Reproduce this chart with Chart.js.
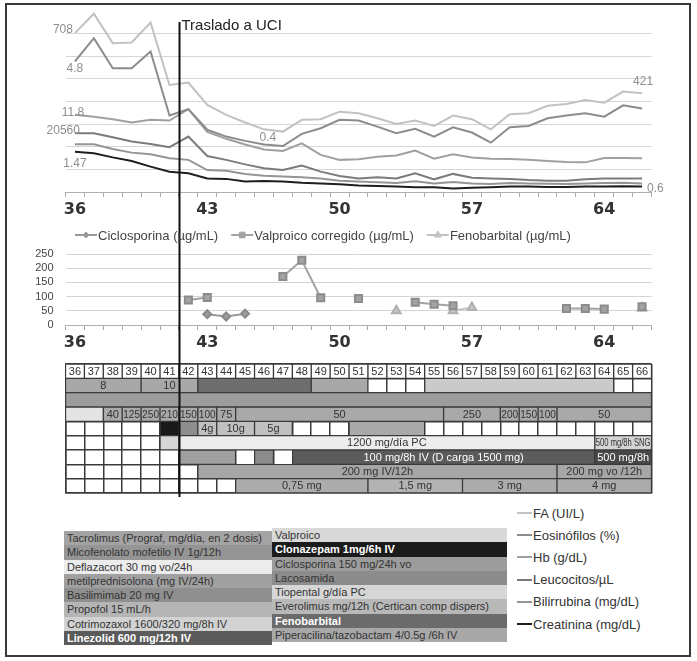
<!DOCTYPE html>
<html lang="es">
<head>
<meta charset="utf-8">
<title>Evolución analítica y pauta de tratamiento</title>
<script src="https://cdn.jsdelivr.net/npm/chart.js@4.4.1/dist/chart.umd.min.js"></script>
<style>
  body { margin: 0; background: #fff; }
  #figura { position: relative; width: 697px; height: 661px; overflow: hidden; font-family: 'Liberation Sans', Arial, sans-serif; color: #333; }
  #marco { position: absolute; left: 5px; top: 3px; width: 682px; height: 650px; border: 2px solid #3a3a3a; }
  canvas { position: absolute; left: 0; }
  .col { position: absolute; }
  .fila { height: 14.3px; line-height: 14.3px; padding-left: 3px; font-size: 11px; white-space: nowrap; overflow: hidden; }
  #leyendaSeries { position: absolute; left: 517px; top: 502px; }
  .serie { height: 22.2px; display: flex; align-items: center; font-size: 13px; color: #333; }
  .serie i { display: inline-block; width: 15px; height: 2px; margin-right: 1px; }
</style>
</head>
<body>
<div id="figura">
  <canvas id="analitica" width="697" height="222" style="top:0"></canvas>
  <canvas id="niveles" width="697" height="133" style="top:222px"></canvas>
  <canvas id="pauta" width="697" height="145" style="top:355px"></canvas>
  <div id="colIzq" class="col" style="left:64px;top:531px;width:208px"></div>
  <div id="colDer" class="col" style="left:272px;top:528px;width:235px"></div>
  <div id="leyendaSeries"></div>
  <div id="marco"></div>
</div>
<script>
// días de ingreso
const days = [36, 37, 38, 39, 40, 41, 42, 43, 44, 45, 46, 47, 48, 49, 50, 51, 52, 53, 54, 55, 56, 57, 58, 59, 60, 61, 62, 63, 64, 65, 66];
const labeledDays = [36, 43, 50, 57, 64];
const uciDay = 41.5;
const uciText = 'Traslado a UCI';

// analítica (escala relativa, una unidad por línea de rejilla)
const seriesNames = ['FA (UI/L)', 'Eosinófilos (%)', 'Hb (g/dL)', 'Leucocitos/µL', 'Bilirrubina (mg/dL)', 'Creatinina (mg/dL)'];
const faValues = [7.02, 7.88, 6.58, 6.61, 7.49, 4.73, 4.84, 3.85, 3.41, 3.07, 2.77, 2.67, 3.19, 3.22, 3.55, 3.48, 3.26, 3.01, 3.16, 2.92, 3.38, 3.22, 2.77, 3.44, 3.48, 3.81, 3.89, 4.07, 3.95, 4.44, 4.37];
const eosValues = [5.77, 6.80, 5.47, 5.47, 6.21, 3.38, 3.66, 2.75, 2.45, 2.26, 2.10, 2.03, 2.57, 2.82, 3.19, 3.16, 2.89, 2.60, 2.79, 2.45, 2.86, 2.63, 2.18, 2.86, 2.92, 3.26, 3.38, 3.48, 3.33, 3.83, 3.69];
const hbValues = [3.41, 3.33, 3.22, 3.07, 3.19, 3.16, 3.66, 2.66, 2.35, 2.10, 1.88, 1.81, 2.15, 1.64, 1.42, 1.45, 1.56, 1.61, 1.83, 1.47, 1.67, 1.53, 1.47, 1.46, 1.42, 1.37, 1.33, 1.31, 1.50, 1.50, 1.49];
const leucoValues = [2.60, 2.60, 2.42, 2.23, 2.12, 1.98, 2.45, 1.59, 1.42, 1.22, 1.05, 0.97, 1.17, 0.90, 0.71, 0.60, 0.65, 0.60, 0.83, 0.56, 0.80, 0.63, 0.60, 0.58, 0.53, 0.50, 0.50, 0.56, 0.60, 0.60, 0.60];
const biliValues = [2.11, 2.11, 1.90, 1.74, 1.67, 1.49, 1.42, 0.97, 0.94, 0.80, 0.72, 0.68, 0.65, 0.60, 0.50, 0.46, 0.43, 0.40, 0.48, 0.38, 0.44, 0.38, 0.35, 0.40, 0.38, 0.36, 0.35, 0.38, 0.40, 0.41, 0.38];
const creatValues = [1.78, 1.71, 1.53, 1.37, 1.12, 0.90, 0.83, 0.60, 0.58, 0.46, 0.49, 0.46, 0.41, 0.38, 0.34, 0.29, 0.27, 0.24, 0.21, 0.21, 0.16, 0.19, 0.21, 0.24, 0.24, 0.22, 0.22, 0.24, 0.24, 0.25, 0.24];
const seriesColors = ['#c2c2c2', '#8c8c8c', '#a0a0a0', '#7b7b7b', '#959595', '#1e1e1e'];

// valores rotulados sobre las curvas: [serie, día, texto]
const pointNotes = [[0, 36, '708'], [1, 36, '4.8'], [2, 36, '11.8'], [3, 36, '20560'], [5, 36, '1.47'], [1, 47, '0.4'], [0, 66, '421'], [5, 66, '0.6']];

// niveles de fármacos (µg/mL)
const levelNames = ['Ciclosporina (µg/mL)', 'Valproico corregido (µg/mL)', 'Fenobarbital (µg/mL)'];
const levelTicks = [0, 50, 100, 150, 200, 250];
const ciclosporina = [null, null, null, null, null, null, null, 38, 30, 40, null, null, null, null, null, null, null, null, null, null, null, null, null, null, null, null, null, null, null, null, null];
const valproico = [null, null, null, null, null, null, 88, 97, null, null, null, 171, 228, 96, null, 93, null, null, 80, 73, 68, null, null, null, null, null, 58, 58, 56, null, 64];
const fenobarbital = [null, null, null, null, null, null, null, null, null, null, null, null, null, null, null, null, null, 50, null, null, 50, 62, null, null, null, null, null, null, null, null, 60];

// pauta de tratamiento: [primer día, último día, texto, tono]
const rowNames = ['Día', 'Tacrolimus', 'Micofenolato', 'Corticoide', 'Sedación', 'Valproico', 'Antiepiléptico', 'Cotrimoxazol', 'Clonazepam'];
const tacroSegs = [[36, 39, '8', 'tac'], [40, 42, '10', 'tac'], [43, 48, '', 'cic'], [49, 51, '', 'tac'], [55, 64, '', 'eve']];
const micoSegs = [[36, 66, '', 'mic']];
const corticoSegs = [[36, 37, '', 'def'], [38, 38, '40', 'met'], [39, 39, '125', 'met'], [40, 40, '250', 'met'], [41, 41, '210', 'met'], [42, 42, '150', 'met'], [43, 43, '100', 'met'], [44, 44, '75', 'met'], [45, 55, '50', 'met'], [56, 58, '250', 'met'], [59, 59, '200', 'met'], [60, 60, '150', 'met'], [61, 61, '100', 'met'], [62, 66, '50', 'met']];
const sedaSegs = [[41, 41, '', 'clo'], [42, 42, '', 'bas'], [43, 43, '4g', 'tio'], [44, 45, '10g', 'tio'], [46, 47, '5g', 'tio'], [51, 54, '', 'lac']];
const valproSegs = [[41, 41, '', 'val0'], [42, 63, '1200 mg/día PC', 'val'], [64, 66, '500 mg/8h SNG', 'val2']];
const fenoSegs = [[42, 44, '', 'pro'], [46, 46, '', 'pro2'], [48, 63, '100 mg/8h IV (D carga 1500 mg)', 'fen'], [64, 66, '500 mg/8h', 'fen2']];
const cotriSegs = [[43, 61, '200 mg IV/12h', 'cot'], [62, 66, '200 mg vo /12h', 'cot']];
const clonaSegs = [[45, 51, '0,75 mg', 'clz'], [52, 56, '1,5 mg', 'clz2'], [57, 61, '3 mg', 'clz'], [62, 66, '4 mg', 'clz']];

const drugsLeft = ['Tacrolimus (Prograf, mg/día, en 2 dosis)', 'Micofenolato mofetilo IV 1g/12h', 'Deflazacort 30 mg vo/24h', 'metilprednisolona (mg IV/24h)', 'Basilimimab 20 mg IV', 'Propofol 15 mL/h', 'Cotrimozaxol 1600/320 mg/8h IV', 'Linezolid 600 mg/12h IV'];
const drugsRight = ['Valproico', 'Clonazepam 1mg/6h IV', 'Ciclosporina 150 mg/24h vo', 'Lacosamida', 'Tiopental g/día PC', 'Everolimus  mg/12h (Certican comp dispers)', 'Fenobarbital', 'Piperacilina/tazobactam 4/0.5g /6h IV'];

// estilos
const tones = {
    tac: '#a8a8a8', cic: '#6d6d6d', eve: '#cacaca', mic: '#9c9c9c', def: '#e4e4e4', met: '#a9a9a9',
    clo: '#191919', bas: '#8e8e8e', tio: '#c0c0c0', lac: '#a9a9a9', val0: '#d6d6d6', val: '#ededed',
    val2: '#d4d4d4', pro: '#9f9f9f', pro2: '#8c8c8c', fen: '#5b5b5b', fen2: '#484848', cot: '#a6a6a6',
    clz: '#acacac', clz2: '#b3b3b3'
};
const darkTones = ['cic', 'clo', 'fen', 'fen2'];
const leftColors = ['#a3a3a3', '#959595', '#ececec', '#a0a0a0', '#8f8f8f', '#b5b5b5', '#d2d2d2', '#5b5b5b'];
const rightColors = ['#d9d9d9', '#1b1b1b', '#9c9c9c', '#8c8c8c', '#d6d6d6', '#b8b8b8', '#6b6b6b', '#a8a8a8'];
const lightText = ['Linezolid 600 mg/12h IV', 'Clonazepam 1mg/6h IV', 'Fenobarbital'];

const FONT = "'Liberation Sans', Arial, sans-serif";
Chart.defaults.font.family = FONT;
Chart.defaults.animation = false;
Chart.defaults.plugins.legend.display = false;
Chart.defaults.plugins.tooltip.enabled = false;

/**
 * Línea vertical del traslado a UCI
 */
const uciPlugin = {
    id: 'uci',
    afterDraw(chart, args, opts) {
        const s = chart.scales.x;
        const v = s.type === 'category' ? uciDay - days[0] : uciDay;
        const x = Math.round(s.getPixelForValue(v)) + 0.5;
        const ctx = chart.ctx;
        ctx.save();
        ctx.strokeStyle = '#111';
        ctx.lineWidth = 2;
        ctx.beginPath();
        ctx.moveTo(x, opts.top);
        ctx.lineTo(x, opts.bottom !== undefined ? opts.bottom : chart.height);
        ctx.stroke();
        if (opts.label) {
            ctx.fillStyle = '#222';
            ctx.font = '15px ' + FONT;
            ctx.textBaseline = 'middle';
            ctx.fillText(opts.label, x + 2, opts.top + 4);
        }
        ctx.restore();
    }
};

const notePlugin = {
    id: 'notes',
    afterDatasetsDraw(chart, args, opts) {
        const ctx = chart.ctx;
        ctx.save();
        ctx.font = '12px ' + FONT;
        ctx.fillStyle = '#8e8e8e';
        ctx.textBaseline = 'middle';
        pointNotes.forEach((n, k) => {
            const pt = chart.getDatasetMeta(n[0]).data[days.indexOf(n[1])];
            const o = opts.offsets[k];
            ctx.textAlign = o[2];
            ctx.fillText(n[2], pt.x + o[0], pt.y + o[1]);
        });
        ctx.restore();
    }
};

const lineLegend = {
    id: 'lineLegend',
    afterDraw(chart, args, opts) {
        const ctx = chart.ctx;
        let x = opts.x;
        const y = opts.y;
        ctx.save();
        ctx.font = '13px ' + FONT;
        ctx.textBaseline = 'middle';
        ctx.textAlign = 'left';
        chart.data.datasets.forEach(ds => {
            ctx.strokeStyle = ds.borderColor;
            ctx.fillStyle = ds.pointBackgroundColor;
            ctx.lineWidth = 2;
            ctx.beginPath();
            ctx.moveTo(x, y);
            ctx.lineTo(x + 22, y);
            ctx.stroke();
            ctx.lineWidth = 1;
            Chart.helpers.drawPoint(ctx, { pointStyle: ds.pointStyle, radius: ds.pointRadius - 1, borderWidth: 1, rotation: 0 }, x + 11, y);
            ctx.fillStyle = '#444';
            ctx.fillText(ds.label, x + 23, y + 1);
            x += 23 + ctx.measureText(ds.label).width + opts.gap;
        });
        ctx.restore();
    }
};

// texto de cada celda: se estrecha en horizontal si no cabe
const cellText = {
    id: 'cellText',
    afterDatasetsDraw(chart) {
        const ctx = chart.ctx;
        chart.data.datasets.forEach((ds, di) => {
            chart.getDatasetMeta(di).data.forEach((bar, i) => {
                const t = ds.texts[i];
                if (!t) return;
                const p = bar.getProps(['x', 'y', 'base'], true);
                const w = Math.abs(p.x - p.base) - 2;
                let size = 11;
                ctx.font = size + 'px ' + FONT;
                while (size > 6 && ctx.measureText(t).width * 0.72 > w) {
                    size -= 0.5;
                    ctx.font = size + 'px ' + FONT;
                }
                const tw = ctx.measureText(t).width;
                const k = Math.min(1, w / tw);
                ctx.save();
                ctx.translate((p.x + p.base) / 2, p.y + 0.5);
                ctx.scale(k, 1);
                ctx.textAlign = 'center';
                ctx.textBaseline = 'middle';
                ctx.fillStyle = ds.textColors[i];
                ctx.fillText(t, 0, 0);
                ctx.restore();
            });
        });
    }
};

function dayAxis() {
    return {
        type: 'category',
        offset: true,
        grid: { offset: true, drawOnChartArea: false, drawTicks: true, tickLength: 5, color: '#a8a8a8' },
        border: { display: true, color: '#b0b0b0' },
        ticks: {
            autoSkip: false,
            maxRotation: 0,
            padding: 3,
            color: '#333',
            font: { size: 16, weight: 'bold', family: "'DejaVu Sans', " + FONT },
            callback: (v, i) => labeledDays.includes(days[i]) ? String(days[i]) : ''
        },
        afterFit: s => { s.height = 30; }
    };
}

/**
 * Gráfico superior: evolución analítica
 */
function initAnaliticaChart() {
    const values = [faValues, eosValues, hbValues, leucoValues, biliValues, creatValues];
    new Chart(document.getElementById('analitica'), {
        type: 'line',
        data: {
            labels: days.map(String),
            datasets: values.map((v, i) => ({
                label: seriesNames[i],
                data: v,
                borderColor: seriesColors[i],
                borderWidth: 2,
                pointRadius: 0,
                tension: 0,
                order: i === 5 ? -1 : i
            }))
        },
        options: {
            responsive: false,
            devicePixelRatio: 1,
            layout: { padding: { left: 65.5, right: 45.5, top: 11, bottom: 0 } },
            scales: {
                x: dayAxis(),
                y: {
                    min: 0,
                    max: 8,
                    ticks: { display: false, stepSize: 1 },
                    border: { display: false },
                    grid: { drawTicks: false, color: c => (c.tick.value === 8 || c.tick.value === 0) ? 'rgba(0,0,0,0)' : '#d6d6d6' },
                    afterFit: s => { s.width = 0; }
                }
            },
            plugins: {
                uci: { top: 22, label: uciText },
                notes: {
                    offsets: [[-2, -3, 'right'], [0, 7, 'center'], [-2, -2, 'center'], [5, -2, 'right'], [0, 12, 'center'], [-15, -8, 'center'], [1, -11, 'center'], [5, 2, 'left']]
                }
            }
        },
        plugins: [uciPlugin, notePlugin]
    });
}

/**
 * Gráfico intermedio: niveles de fármacos
 */
function initNivelesChart() {
    new Chart(document.getElementById('niveles'), {
        type: 'line',
        data: {
            labels: days.map(String),
            datasets: [
                {
                    label: levelNames[0], data: ciclosporina,
                    borderColor: '#9a9a9a', pointBackgroundColor: '#9a9a9a', pointBorderColor: '#8a8a8a',
                    pointStyle: 'rectRot', pointRadius: 4, borderWidth: 2
                },
                {
                    label: levelNames[1], data: valproico,
                    borderColor: '#a3a3a3', pointBackgroundColor: '#a3a3a3', pointBorderColor: '#8c8c8c',
                    pointStyle: 'rect', pointRadius: 5, borderWidth: 2
                },
                {
                    label: levelNames[2], data: fenobarbital,
                    borderColor: '#c2c2c2', pointBackgroundColor: '#c6c6c6', pointBorderColor: '#b0b0b0',
                    pointStyle: 'triangle', pointRadius: 5, borderWidth: 2
                }
            ]
        },
        options: {
            responsive: false,
            devicePixelRatio: 1,
            spanGaps: false,
            layout: { padding: { left: 25.5, right: 45.5, top: 32, bottom: 0 } },
            scales: {
                x: dayAxis(),
                y: {
                    min: levelTicks[0],
                    max: levelTicks[levelTicks.length - 1],
                    afterBuildTicks: s => { s.ticks = levelTicks.map(v => ({ value: v })); },
                    ticks: { autoSkip: false, padding: 12, color: '#444', font: { size: 11 } },
                    border: { display: false },
                    grid: { drawTicks: false, color: c => c.tick.value === 0 ? 'rgba(0,0,0,0)' : '#d4d4d4' },
                    afterFit: s => { s.width = 40; }
                }
            },
            plugins: {
                uci: { top: 0 },
                lineLegend: { x: 75, y: 13, gap: 13 }
            }
        },
        plugins: [uciPlugin, lineLegend]
    });
}

/**
 * Tabla de pauta de tratamiento como barras flotantes
 */
function initPautaChart() {
    const rowSegments = [tacroSegs, micoSegs, corticoSegs, sedaSegs, valproSegs, fenoSegs, cotriSegs, clonaSegs];
    const common = { grouped: false, borderWidth: 1, borderColor: '#3a3a3a', borderSkipped: false, barPercentage: 1, categoryPercentage: 1 };
    const datasets = [Object.assign({
        label: rowNames[0],
        data: days.map(d => ({ x: [d - 0.5, d + 0.5], y: rowNames[0] })),
        backgroundColor: '#fff',
        texts: days.map(String),
        textColors: days.map(() => '#333')
    }, common)].concat(rowSegments.map((segs, r) => Object.assign({
        label: rowNames[r + 1],
        data: segs.map(s => ({ x: [s[0] - 0.5, s[1] + 0.5], y: rowNames[r + 1] })),
        backgroundColor: segs.map(s => tones[s[3]]),
        texts: segs.map(s => s[2]),
        textColors: segs.map(s => darkTones.includes(s[3]) ? '#fff' : '#333')
    }, common)));

    new Chart(document.getElementById('pauta'), {
        type: 'bar',
        data: { labels: rowNames, datasets: datasets },
        options: {
            indexAxis: 'y',
            responsive: false,
            devicePixelRatio: 1,
            layout: { padding: { left: 65.5, right: 45.5, top: 9, bottom: 7 } },
            scales: {
                x: {
                    type: 'linear',
                    min: days[0] - 0.5,
                    max: days[days.length - 1] + 0.5,
                    afterBuildTicks: s => { s.ticks = days.concat([days[days.length - 1] + 1]).map(d => ({ value: d - 0.5 })); },
                    ticks: { display: false },
                    grid: { drawTicks: false, color: '#3a3a3a', lineWidth: 1.5 },
                    border: { display: true, color: '#3a3a3a', width: 1.5 },
                    afterFit: s => { s.height = 0; }
                },
                y: {
                    type: 'category',
                    offset: true,
                    ticks: { display: false },
                    grid: { offset: true, drawTicks: false, color: '#3a3a3a', lineWidth: 1.5 },
                    border: { display: true, color: '#3a3a3a', width: 1.5 },
                    afterFit: s => { s.width = 0; }
                }
            },
            plugins: {
                uci: { top: 0, bottom: 142 }
            }
        },
        plugins: [cellText, uciPlugin]
    });
}

function buildLegends() {
    const fill = (id, names, colors) => {
        document.getElementById(id).innerHTML = names.map((n, i) => {
            const light = lightText.includes(n);
            return '<div class="fila" style="background:' + colors[i] + ';color:' + (light ? '#fff' : '#333') +
                (light ? ';font-weight:bold' : '') + '">' + n + '</div>';
        }).join('');
    };
    fill('colIzq', drugsLeft, leftColors);
    fill('colDer', drugsRight, rightColors);
    document.getElementById('leyendaSeries').innerHTML = seriesNames.map((n, i) =>
        '<div class="serie"><i style="background:' + seriesColors[i] + '"></i>' + n + '</div>').join('');
}

initAnaliticaChart();
initNivelesChart();
initPautaChart();
buildLegends();
</script>
</body>
</html>
